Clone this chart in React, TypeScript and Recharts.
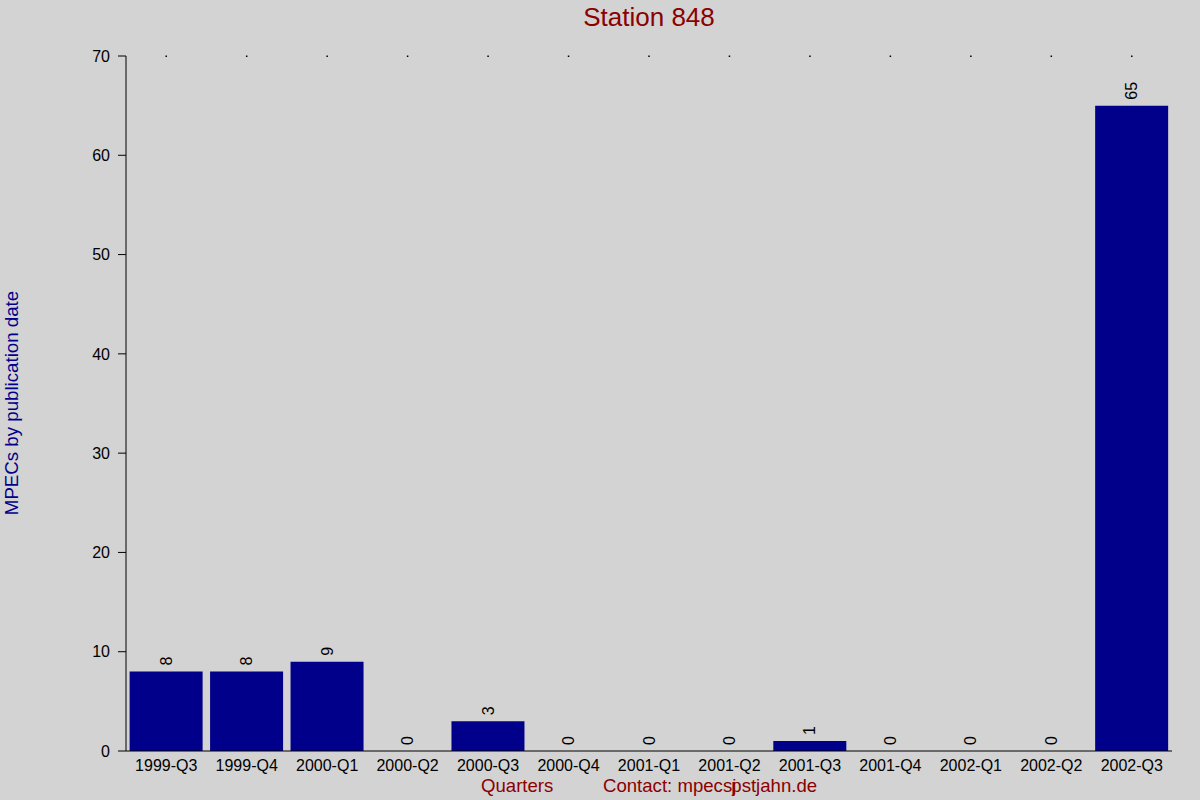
import { ComposedChart, Bar, Scatter, XAxis, YAxis } from "recharts";

const quarters = [
  "1999-Q3", "1999-Q4", "2000-Q1", "2000-Q2", "2000-Q3", "2000-Q4", "2001-Q1",
  "2001-Q2", "2001-Q3", "2001-Q4", "2002-Q1", "2002-Q2", "2002-Q3",
];
const mpecs = [8, 8, 9, 0, 3, 0, 0, 0, 1, 0, 0, 0, 65];
const yTicks = [0, 10, 20, 30, 40, 50, 60, 70];
const yMax = 70;

const FONT = "'Liberation Sans', Arial, sans-serif";

// rotated value label above each bar (drawn through a scatter so zeros show too)
const BarValue = (props: any) => {
  const { cx, cy, payload } = props;
  const ty = cy - 6;
  return (
    <text
      x={cx}
      y={ty}
      transform={`rotate(-90 ${cx} ${ty})`}
      textAnchor="start"
      dominantBaseline="central"
      fontSize={16}
      fontFamily={FONT}
      fill="#000"
    >
      {payload.count}
    </text>
  );
};

// tiny dot at each category on the top edge
const TopDot = (props: any) => {
  const { cx, cy } = props;
  return <rect x={cx - 0.75} y={cy - 0.5} width={1.5} height={1.5} fill="#000" />;
};

export default function App() {
  const data = quarters.map((q, i) => ({ quarter: q, count: mpecs[i], top: yMax }));

  return (
    <div
      style={{
        position: "absolute",
        left: 0,
        top: 0,
        width: 1200,
        height: 800,
        background: "#d3d3d3",
        fontFamily: FONT,
      }}
    >
      <ComposedChart
        width={1200}
        height={800}
        data={data}
        margin={{ top: 56, right: 28, left: 26, bottom: 19 }}
        barCategoryGap="4.5%"
      >
        <XAxis
          dataKey="quarter"
          height={30}
          axisLine={{ stroke: "#000", strokeWidth: 1 }}
          tickLine={false}
          tickMargin={3}
          interval={0}
          tick={{ fontSize: 16, fill: "#000", fontFamily: FONT }}
        />
        <YAxis
          width={100}
          domain={[0, yMax]}
          ticks={yTicks}
          axisLine={{ stroke: "#000", strokeWidth: 1 }}
          tickLine={{ stroke: "#000" }}
          tickSize={8}
          tickMargin={8}
          tick={{ fontSize: 16, fill: "#000", fontFamily: FONT }}
        />
        <Bar dataKey="count" fill="#00008b" isAnimationActive={false} />
        <Scatter dataKey="count" shape={BarValue} isAnimationActive={false} />
        <Scatter dataKey="top" shape={TopDot} isAnimationActive={false} />
      </ComposedChart>

      <div
        style={{
          position: "absolute",
          left: 126,
          width: 1046,
          top: 2,
          textAlign: "center",
          fontSize: 26,
          color: "#8b0000",
        }}
      >
        Station 848
      </div>

      <div
        style={{
          position: "absolute",
          left: 12,
          top: 403,
          transform: "translate(-50%, -50%) rotate(-90deg)",
          whiteSpace: "nowrap",
          fontSize: 18.7,
          color: "#00008b",
        }}
      >
        MPECs by publication date
      </div>

      <div
        style={{
          position: "absolute",
          left: 481,
          top: 775,
          fontSize: 18.6,
          color: "#8b0000",
          whiteSpace: "nowrap",
        }}
      >
        Quarters
      </div>
      <div
        style={{
          position: "absolute",
          left: 603,
          top: 775,
          fontSize: 18.6,
          color: "#8b0000",
          whiteSpace: "nowrap",
        }}
      >
        Contact: mpecsj<span style={{ marginLeft: -5 }}>pstjahn.de</span>
      </div>
    </div>
  );
}
